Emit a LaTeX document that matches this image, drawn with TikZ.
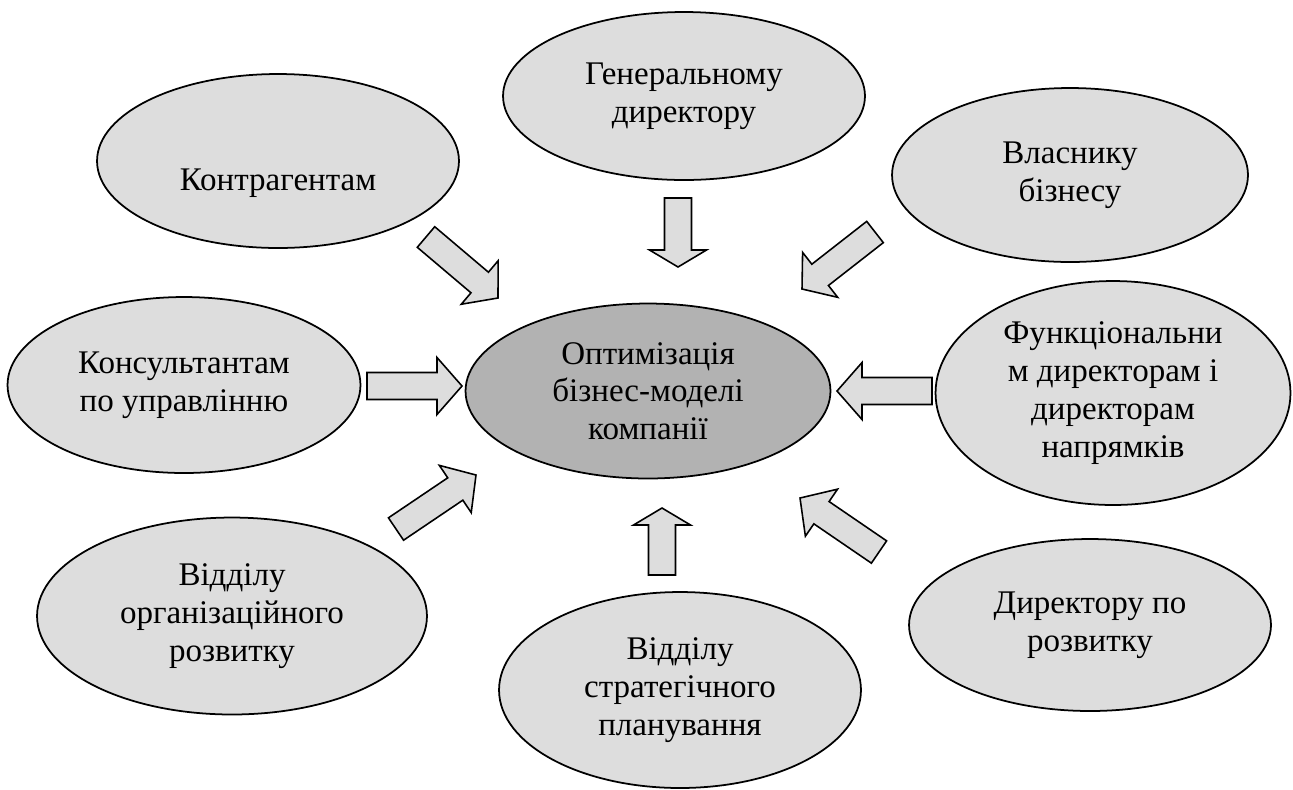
\documentclass[tikz,border=0pt]{standalone}
\usepackage{fontspec}
\setmainfont{Liberation Serif}
\usetikzlibrary{shapes.geometric,calc}
\definecolor{ovalgray}{RGB}{221,221,221}
\definecolor{hubgray}{RGB}{178,178,178}
\tikzset{
  oval/.style = {ellipse, draw=black, line width=1pt, fill=ovalgray,
                 minimum width=7.24cm, minimum height=3.48cm, inner sep=0pt,
                 align=center, font=\fontsize{18.8}{21.5}\selectfont},
  hub/.style  = {oval, fill=hubgray, minimum width=7.3cm, minimum height=3.5cm},
  barr/.style = {draw=black, line width=0.9pt, fill=ovalgray, line join=miter,
                 to path={
                   ($(\tikztostart)!0.27cm!90:(\tikztotarget)$)
                   -- ($(\tikztotarget)!#1!(\tikztostart)!0.27cm!-90:(\tikztostart)$)
                   -- ($(\tikztotarget)!#1!(\tikztostart)!0.57cm!-90:(\tikztostart)$)
                   -- (\tikztotarget)
                   -- ($(\tikztotarget)!#1!(\tikztostart)!0.57cm!90:(\tikztostart)$)
                   -- ($(\tikztotarget)!#1!(\tikztostart)!0.27cm!90:(\tikztostart)$)
                   -- ($(\tikztostart)!0.27cm!-90:(\tikztotarget)$) -- cycle}},
  barr/.default = 0.46cm
}

\begin{document}
\begin{tikzpicture}[x=0.02cm, y=-0.02cm]
    \useasboundingbox (0,0) rectangle (1293,789);
    \node[hub] (o) at (648,391) {Оптимізація\\бізнес-моделі\\компанії};
    \node[oval, text height=1.26cm, text depth=0.1cm] (k) at (278,161) {Контрагентам};
    \node[oval, minimum height=3.36cm] (g) at (684,96) {Генеральному\\директору};
    \node[oval, minimum width=7.12cm] (v) at (1070,175) {Власнику\\бізнесу};
    \node[oval, minimum width=7.06cm, minimum height=3.52cm] (c) at (184,385) {Консультантам\\по управлінню};
    \node[oval, minimum width=7.1cm, minimum height=4.48cm] (f) at (1113,393) {Функціональни\\м директорам і\\директорам\\напрямків};
    \node[oval, minimum width=7.8cm, minimum height=3.94cm] (r) at (232,616) {Відділу\\організаційного\\розвитку};
    \node[oval, minimum height=3.92cm] (s) at (680,690) {Відділу\\стратегічного\\планування};
    \node[oval, minimum height=3.44cm] (d) at (1090,625) {Директору по\\розвитку};
    % block arrows towards the hub
    \coordinate (k1) at (426,237); \coordinate (k2) at (498,298);
    \coordinate (g1) at (678,198); \coordinate (g2) at (678,267);
    \coordinate (v1) at (875,232); \coordinate (v2) at (802,289);
    \coordinate (c1) at (367,386); \coordinate (c2) at (462,386);
    \coordinate (f1) at (932,391); \coordinate (f2) at (837,391);
    \coordinate (r1) at (396,529); \coordinate (r2) at (476,475);
    \coordinate (s1) at (662,575); \coordinate (s2) at (662,508);
    \coordinate (d1) at (879,552); \coordinate (d2) at (800,498);
    \draw[barr=0.48cm] (k1) to (k2);
    \draw[barr=0.34cm] (g1) to (g2);
    \draw[barr] (v1) to (v2);
    \draw[barr=0.5cm] (c1) to (c2);
    \draw[barr=0.5cm] (f1) to (f2);
    \draw[barr=0.5cm] (r1) to (r2);
    \draw[barr=0.34cm] (s1) to (s2);
    \draw[barr=0.52cm] (d1) to (d2);
\end{tikzpicture}
\end{document}
